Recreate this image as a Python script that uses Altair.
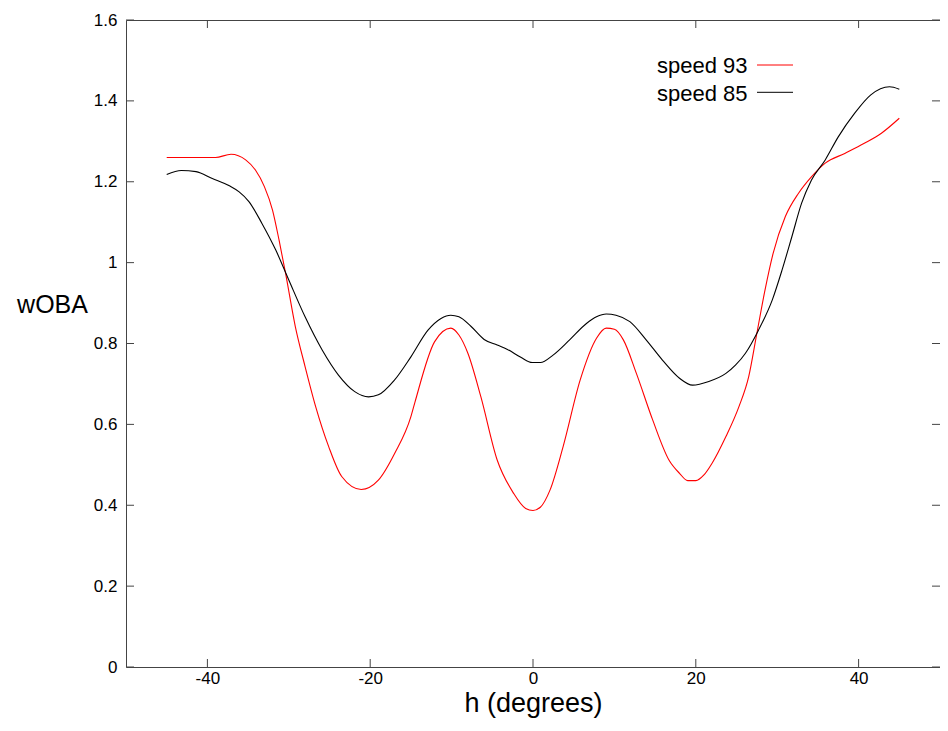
import altair as alt
import pandas as pd

# speed 93 curve (red)
red_x = [-45, -39, -37.1, -35.3, -34.1, -33.0, -32.0, -31.2, -30.4, -29.2, -28.0, -26.7, -25.1, -23.5,
         -21.1, -19.0, -17.0, -15.0, -14.5, -12.1, -10.1, -9.1, -8.0, -6.4, -4.4, -2.4, -0.9, 0, 0.9, 2.1,
         3.7, 5.8, 7.8, 9.0, 10.0, 11.1, 12.7, 14.7, 16.7, 18.0, 19.0, 20.0, 21.0, 22.0, 23.7, 25.3,
         26.5, 27.5, 28.5, 29.5, 31.0, 32.6, 34.2, 35.9, 38.3, 40.7, 42.8, 45.0]
red_y = [1.260, 1.260, 1.268, 1.254, 1.229, 1.188, 1.130, 1.056, 0.974, 0.842, 0.743, 0.644, 0.545, 0.471,
         0.439, 0.462, 0.528, 0.619, 0.655, 0.804, 0.838, 0.821, 0.776, 0.668, 0.512, 0.430, 0.392, 0.387,
         0.395, 0.438, 0.545, 0.710, 0.813, 0.838, 0.835, 0.809, 0.726, 0.611, 0.512, 0.479, 0.461, 0.461,
         0.475, 0.504, 0.570, 0.644, 0.718, 0.825, 0.932, 1.023, 1.114, 1.171, 1.212, 1.246, 1.270, 1.295,
         1.320, 1.357]

# speed 85 curve (black)
black_x = [-45.0, -43.2, -41.4, -39.4, -37.3, -36.1, -34.9, -33.3, -31.6, -30.0, -28.0, -25.9, -23.9,
           -21.9, -20.2, -19.0, -17.0, -15.0, -12.9, -11.3, -10.1, -9.1, -7.6, -6.0, -4.4, -3.2, -1.5,
           -0.1, 0.9, 2.5, 4.5, 6.6, 7.8, 9.0, 10.2, 11.9, 13.9, 15.9, 18.0, 19.6, 21.6, 23.7, 24.9,
           26.1, 27.7, 29.4, 30.6, 31.8, 33.0, 34.2, 35.9, 37.5, 39.5, 41.5, 43.8, 45.0]
black_y = [1.218, 1.228, 1.225, 1.208, 1.190, 1.175, 1.151, 1.097, 1.031, 0.957, 0.866, 0.784, 0.722,
           0.681, 0.668, 0.673, 0.710, 0.767, 0.833, 0.862, 0.870, 0.866, 0.842, 0.810, 0.796, 0.786,
           0.766, 0.753, 0.753, 0.772, 0.809, 0.850, 0.866, 0.873, 0.870, 0.854, 0.809, 0.759, 0.714,
           0.697, 0.706, 0.726, 0.747, 0.776, 0.833, 0.908, 0.982, 1.064, 1.147, 1.204, 1.254, 1.311,
           1.369, 1.415, 1.435, 1.429]

series_names = ["speed 93", "speed 85"]
series_colors = ["#ff0000", "#000000"]

x_ticks = [-40, -20, 0, 20, 40]
y_ticks = [0, 0.2, 0.4, 0.6, 0.8, 1.0, 1.2, 1.4, 1.6]

FONT = "Liberation Sans"
W, H = 814, 647
FRAME = "#444444"

df = pd.concat([
    pd.DataFrame({"h": red_x, "wOBA": red_y, "series": series_names[0]}),
    pd.DataFrame({"h": black_x, "wOBA": black_y, "series": series_names[1]}),
])

xscale = alt.Scale(domain=[-50, 50], nice=False, zero=False)
yscale = alt.Scale(domain=[0, 1.6], nice=False, zero=False)

xaxis = alt.Axis(values=x_ticks, labelExpr="toString(datum.value)", title="h (degrees)",
                 domain=False, ticks=False, grid=False, labelFontSize=17, labelFont=FONT,
                 labelColor="#000", labelPadding=3, titleFontSize=27, titleFont=FONT,
                 titleFontWeight="normal", titleColor="#000", titleY=44,
                 titleBaseline="alphabetic")
yaxis = alt.Axis(values=y_ticks, labelExpr="toString(datum.value)", title="wOBA",
                 domain=False, ticks=False, grid=False, labelFontSize=17, labelFont=FONT,
                 labelColor="#000", labelPadding=9, titleFontSize=25, titleFont=FONT,
                 titleFontWeight="normal", titleColor="#000", titleAngle=0,
                 titleAlign="center", titleBaseline="alphabetic",
                 titleX=-74, titleY=292)

lines = alt.Chart(df).mark_line(strokeWidth=1.1, interpolate="monotone").encode(
    x=alt.X("h:Q", scale=xscale, axis=xaxis),
    y=alt.Y("wOBA:Q", scale=yscale, axis=yaxis),
    color=alt.Color("series:N", scale=alt.Scale(domain=series_names, range=series_colors),
                    legend=None),
    detail="series:N",
)

xt = pd.DataFrame({"h": x_ticks})
yt = pd.DataFrame({"wOBA": y_ticks})

tick_layers = [
    alt.Chart(xt).mark_rule(color=FRAME, strokeWidth=1).encode(
        x=alt.X("h:Q", scale=xscale, axis=xaxis), y=alt.value(H), y2=alt.value(H - 8)),
    alt.Chart(xt).mark_rule(color=FRAME, strokeWidth=1).encode(
        x=alt.X("h:Q", scale=xscale, axis=xaxis), y=alt.value(0), y2=alt.value(8)),
    alt.Chart(yt).mark_rule(color=FRAME, strokeWidth=1).encode(
        y=alt.Y("wOBA:Q", scale=yscale, axis=yaxis), x=alt.value(0), x2=alt.value(8)),
    alt.Chart(yt).mark_rule(color=FRAME, strokeWidth=1).encode(
        y=alt.Y("wOBA:Q", scale=yscale, axis=yaxis), x=alt.value(W), x2=alt.value(W - 8)),
]

# gnuplot-style key: text to the left of the line sample
legend_layers = []
for i, (name, col) in enumerate(zip(series_names, series_colors)):
    ly = 45 + i * 27.3
    legend_layers.append(
        alt.Chart(pd.DataFrame({"k": [name]})).mark_text(
            align="right", baseline="alphabetic", font=FONT, fontSize=22, color="#000"
        ).encode(text="k:N", x=alt.value(621.5), y=alt.value(ly + 8.3))
    )
    legend_layers.append(
        alt.Chart(pd.DataFrame({"k": [name]})).mark_rule(color=col, strokeWidth=1).encode(
            x=alt.value(631), x2=alt.value(667), y=alt.value(ly))
    )

chart = alt.layer(lines, *tick_layers, *legend_layers).properties(
    width=W, height=H,
    autosize=alt.AutoSizeParams(type="none"),
    padding={"left": 118, "top": 12, "right": 0, "bottom": 52},
    background="white",
).configure_view(stroke=FRAME, strokeWidth=1)

chart.save("out.html", embed_options={"renderer": "svg", "actions": False})
